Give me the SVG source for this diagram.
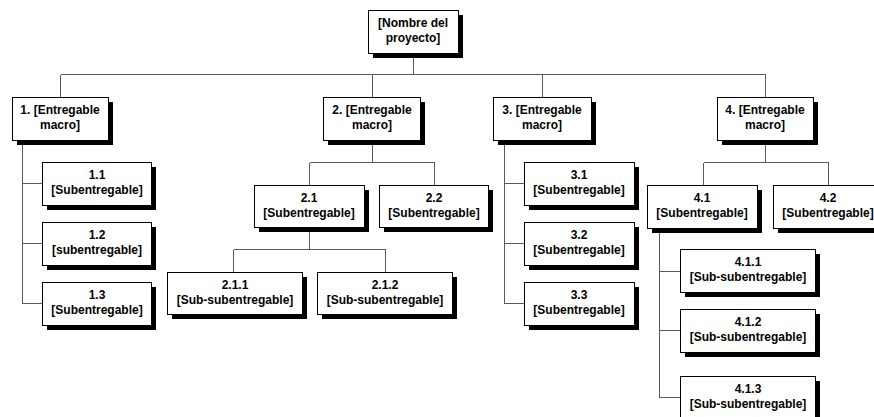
<svg xmlns="http://www.w3.org/2000/svg" width="874" height="417" viewBox="0 0 874 417">
<style>
.sh{fill:#000}
.bx{fill:#fff;stroke:#000;stroke-width:1}
.t{font-family:"Liberation Sans",Arial,sans-serif;font-weight:bold;font-size:12px;fill:#000;text-anchor:middle}
.c{fill:none;stroke:#5a5a5a;stroke-width:1}
</style>
<rect width="874" height="417" fill="#fff"/>
<g id="connectors" class="c" shape-rendering="crispEdges">
<path d="M413.5 53V74.5M60.5 74.5H765.5M60.5 74.5V97M372.5 74.5V97M542.5 74.5V97M765.5 74.5V97"/>
<path d="M22.5 140V303.5M22.5 183.5H42M22.5 243.5H42M22.5 303.5H42"/>
<path d="M372.5 140V162.5M309.5 162.5H434.5M309.5 162.5V185M434.5 162.5V185"/>
<path d="M309.5 227V249.5M233.5 249.5H385.5M233.5 249.5V272M385.5 249.5V272"/>
<path d="M504.5 140V303.5M504.5 183.5H524M504.5 243.5H524M504.5 303.5H524"/>
<path d="M765.5 140V162.5M703.5 162.5H828.5M703.5 162.5V185M828.5 162.5V185"/>
<path d="M659.5 228V397.5M659.5 271.5H680M659.5 330.5H680M659.5 397.5H680"/>
</g>
<g id="root"><rect class="sh" x="373" y="15" width="90" height="43"/><rect class="bx" x="368.5" y="10.5" width="90" height="43"/><text class="t" x="413" y="27">[Nombre del</text><text class="t" x="413" y="42">proyecto]</text></g>
<g id="n1"><rect class="sh" x="17" y="102" width="96" height="43"/><rect class="bx" x="12.5" y="97.5" width="96" height="43"/><text class="t" x="60" y="114">1. [Entregable</text><text class="t" x="60" y="129">macro]</text></g>
<g id="n2"><rect class="sh" x="328" y="102" width="97" height="43"/><rect class="bx" x="323.5" y="97.5" width="97" height="43"/><text class="t" x="372" y="114">2. [Entregable</text><text class="t" x="372" y="129">macro]</text></g>
<g id="n3"><rect class="sh" x="498" y="102" width="98" height="43"/><rect class="bx" x="493.5" y="97.5" width="98" height="43"/><text class="t" x="542" y="114">3. [Entregable</text><text class="t" x="542" y="129">macro]</text></g>
<g id="n4"><rect class="sh" x="722" y="102" width="96" height="43"/><rect class="bx" x="717.5" y="97.5" width="96" height="43"/><text class="t" x="765" y="114">4. [Entregable</text><text class="t" x="765" y="129">macro]</text></g>
<g id="n11"><rect class="sh" x="47" y="167" width="109" height="43"/><rect class="bx" x="42.5" y="162.5" width="109" height="43"/><text class="t" x="97" y="179">1.1</text><text class="t" x="97" y="194">[Subentregable]</text></g>
<g id="n12"><rect class="sh" x="47" y="227" width="109" height="43"/><rect class="bx" x="42.5" y="222.5" width="109" height="43"/><text class="t" x="97" y="239">1.2</text><text class="t" x="97" y="254">[subentregable]</text></g>
<g id="n13"><rect class="sh" x="47" y="287" width="109" height="43"/><rect class="bx" x="42.5" y="282.5" width="109" height="43"/><text class="t" x="97" y="299">1.3</text><text class="t" x="97" y="314">[Subentregable]</text></g>
<g id="n21"><rect class="sh" x="259" y="190" width="110" height="42"/><rect class="bx" x="254.5" y="185.5" width="110" height="42"/><text class="t" x="309" y="202">2.1</text><text class="t" x="309" y="217">[Subentregable]</text></g>
<g id="n22"><rect class="sh" x="384" y="190" width="109" height="42"/><rect class="bx" x="379.5" y="185.5" width="109" height="42"/><text class="t" x="434" y="202">2.2</text><text class="t" x="434" y="217">[Subentregable]</text></g>
<g id="n211"><rect class="sh" x="172" y="277" width="135" height="42"/><rect class="bx" x="167.5" y="272.5" width="135" height="42"/><text class="t" x="235" y="289">2.1.1</text><text class="t" x="235" y="304">[Sub-subentregable]</text></g>
<g id="n212"><rect class="sh" x="322" y="277" width="135" height="42"/><rect class="bx" x="317.5" y="272.5" width="135" height="42"/><text class="t" x="385" y="289">2.1.2</text><text class="t" x="385" y="304">[Sub-subentregable]</text></g>
<g id="n31"><rect class="sh" x="529" y="167" width="110" height="43"/><rect class="bx" x="524.5" y="162.5" width="110" height="43"/><text class="t" x="579" y="179">3.1</text><text class="t" x="579" y="194">[Subentregable]</text></g>
<g id="n32"><rect class="sh" x="529" y="227" width="110" height="43"/><rect class="bx" x="524.5" y="222.5" width="110" height="43"/><text class="t" x="579" y="239">3.2</text><text class="t" x="579" y="254">[Subentregable]</text></g>
<g id="n33"><rect class="sh" x="529" y="287" width="110" height="43"/><rect class="bx" x="524.5" y="282.5" width="110" height="43"/><text class="t" x="579" y="299">3.3</text><text class="t" x="579" y="314">[Subentregable]</text></g>
<g id="n41"><rect class="sh" x="652" y="190" width="110" height="43"/><rect class="bx" x="647.5" y="185.5" width="110" height="43"/><text class="t" x="702" y="202">4.1</text><text class="t" x="702" y="217">[Subentregable]</text></g>
<g id="n42"><rect class="sh" x="778" y="190" width="110" height="43"/><rect class="bx" x="773.5" y="185.5" width="110" height="43"/><text class="t" x="828" y="202">4.2</text><text class="t" x="828" y="217">[Subentregable]</text></g>
<g id="n411"><rect class="sh" x="685" y="254" width="135" height="43"/><rect class="bx" x="680.5" y="249.5" width="135" height="43"/><text class="t" x="748" y="266">4.1.1</text><text class="t" x="748" y="281">[Sub-subentregable]</text></g>
<g id="n412"><rect class="sh" x="685" y="314" width="135" height="43"/><rect class="bx" x="680.5" y="309.5" width="135" height="43"/><text class="t" x="748" y="326">4.1.2</text><text class="t" x="748" y="341">[Sub-subentregable]</text></g>
<g id="n413"><rect class="sh" x="685" y="381" width="135" height="43"/><rect class="bx" x="680.5" y="376.5" width="135" height="43"/><text class="t" x="748" y="393">4.1.3</text><text class="t" x="748" y="408">[Sub-subentregable]</text></g>
</svg>
